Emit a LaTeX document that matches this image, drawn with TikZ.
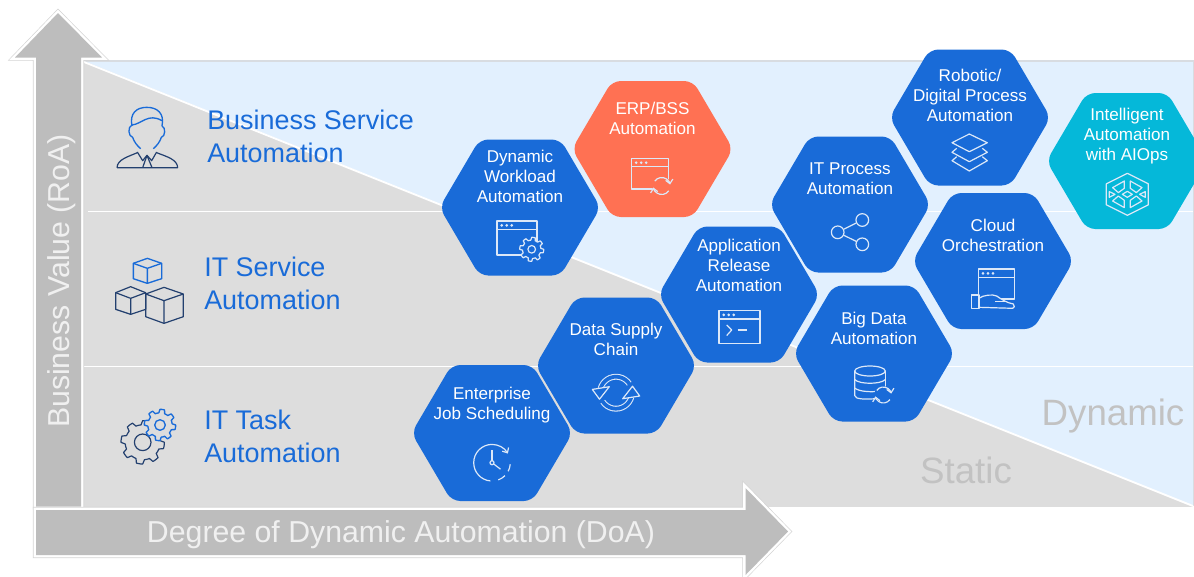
\documentclass[tikz,border=0pt]{standalone}
\usepackage{fontspec}
\setmainfont{Liberation Sans}
\usepackage{xcolor}
\usepackage{tikz}
\usetikzlibrary{arrows.meta}

\definecolor{hexblue}{HTML}{196BD8}
\definecolor{hexcoral}{HTML}{FF7153}
\definecolor{hexcyan}{HTML}{05B8D9}
\definecolor{skyfill}{HTML}{E2F0FE}
\definecolor{stonefill}{HTML}{DDDDDD}
\definecolor{barfill}{HTML}{BDBDBD}
\definecolor{barline}{HTML}{D4D4D4}
\definecolor{navyline}{HTML}{23406F}
\definecolor{iconline}{HTML}{DCE8F8}

\tikzset{
  >={Straight Barb[length=3pt, width=5.5pt]},
  barshape/.style={fill=barfill, preaction={draw=barline, line width=4.6pt},
    preaction={draw=white, line width=3.6pt}, line join=miter},
  hexbody/.style={rounded corners=6.5pt},
  hextext/.style={text=white, align=center, font=\fontsize{12.8}{15}\selectfont},
  sidetext/.style={text=hexblue, align=left, anchor=west, inner sep=0pt, font=\fontsize{20.2}{24.75}\selectfont},
  bartext/.style={text=white!94!black, font=\fontsize{22.7}{26}\selectfont},
  zonetext/.style={text=black!24, font=\fontsize{27.5}{30}\selectfont},
  iconpen/.style={draw=iconline, line width=0.9pt, line join=round},
  navypen/.style={draw=navyline, line width=0.9pt, line join=round},
  bluepen/.style={draw=hexblue, line width=1pt, line join=round},
  sharedot/.style={circle, draw=iconline, line width=0.9pt, minimum size=9.5pt, inner sep=0pt}
}

% hexagon cell: name, x, y, fill, text y, text
\newcommand{\hexcell}[6]{
  \fill[hexbody, fill=#4] (#2-80.5,#3) -- (#2-40.5,#3-68) -- (#2+40.5,#3-68)
    -- (#2+80.5,#3) -- (#2+40.5,#3+68) -- (#2-40.5,#3+68) -- cycle;
  \node[hextext] (#1) at (#2,#5) {#6};
}
% window with title bar: x0, y0, x1, y1
\newcommand{\winicon}[4]{
  \draw[iconpen] (#1,#2) rectangle (#3,#4);
  \draw[iconpen] (#1,#2+8.5) -- (#3,#2+8.5);
  \fill[iconline] (#1+4.7,#2+4.4) circle (1.1pt) (#1+9.7,#2+4.4) circle (1.1pt) (#1+14.7,#2+4.4) circle (1.1pt);
}
% gear: x, y, outer, inner, hole, pen, mask
\newcommand{\gearicon}[7]{
  \begin{scope}[shift={(#1,#2)}]
    \filldraw[#6, fill=#7] plot[domain=11.25:371.25, samples=65] (\x:{(mod(\x*8,360)<180) ? #3 : #4}) -- cycle;
    \draw[#6] (0,0) circle (#5);
  \end{scope}
}
% two turning arrows: x, y, radius, mask
\newcommand{\turnicon}[4]{
  \begin{scope}[shift={(#1,#2)}]
    \fill[#4] (0,0) circle (#3+1);
    \draw[iconpen, ->] (-145:#3) arc (-145:-10:#3);
    \draw[iconpen, ->] (35:#3) arc (35:170:#3);
  \end{scope}
}

\begin{document}
\begin{tikzpicture}[x=0.75pt, y=-0.75pt]
  \useasboundingbox (0,0) rectangle (1194,576);
  \clip (0,0) rectangle (1194,576);

  % Fond gris et triangle bleu
  \fill[stonefill] (84,62) rectangle (1193,507);
  \fill[skyfill] (84,61) -- (1193,61) -- (1193,506) -- cycle;
  \draw[barline!70!skyfill, line width=0.8pt] (84,61) -- (1193.5,61) -- (1193.5,506);
  \draw[white, line width=1.4pt] (84,62) -- (1193,506);
  \draw[white, line width=1.4pt] (88,211.5) -- (1193,211.5);
  \draw[white, line width=1.4pt] (84,366.5) -- (1193,366.5);
  \draw[white, line width=1pt] (83.5,62) -- (83.5,507);

  % Axes
  \fill[barshape] (36,506.5) -- (36,57.5) -- (15,57.5) -- (58,13) -- (102,57.5) -- (81,57.5) -- (81,506.5) -- cycle;
  \fill[barshape] (36,510) -- (745.5,510) -- (745.5,488) -- (788,531.5) -- (745.5,575) -- (745.5,555) -- (36,555) -- cycle;
  \node[bartext, rotate=90] (roalabel) at (62,281) {Business Value (RoA)};
  \node[bartext] (doalabel) at (401,535) {Degree of Dynamic Automation (DoA)};

  % Zones
  \node[zonetext] (dynamiclabel) at (1113,416) {Dynamic};
  \node[zonetext] (staticlabel) at (966,470) {Static};

  % Titres a gauche
  \node[sidetext] (bsalabel) at (207,136) {Business Service\\Automation};
  \node[sidetext] (itslabel) at (204,283) {IT Service\\Automation};
  \node[sidetext] (italabel) at (204,436) {IT Task\\Automation};

  % Personne
  \begin{scope}[scale=1/3]
    \draw[bluepen] (396,378) .. controls (388,340) and (410,322) .. (440,322)
      .. controls (472,322) and (494,340) .. (486,378);
    \draw[bluepen] (396,375) .. controls (425,372) and (445,338) .. (486,362);
    \draw[bluepen] (396,375) .. controls (382,380) and (385,410) .. (398,412)
      .. controls (402,425) and (412,438) .. (422,446);
    \draw[bluepen] (486,378) .. controls (498,382) and (496,410) .. (484,412)
      .. controls (480,425) and (470,438) .. (460,446);
    \draw[navypen] (351,503) -- (533,503) .. controls (532,478) and (500,470) .. (470,458);
    \draw[navypen] (351,503) .. controls (352,478) and (385,470) .. (412,458);
    \draw[navypen] (412,456) -- (428,482) -- (441,466) -- (455,482) -- (470,456);
    \draw[navypen] (441,466) -- (428,503) (441,466) -- (456,503);
  \end{scope}

  % Cubes
  \begin{scope}[scale=1/3]
    \draw[bluepen] (442,775) -- (485,790) -- (485,836) -- (442,850) -- (400,836) -- (400,790) -- cycle;
    \draw[bluepen] (400,790) -- (442,805) -- (485,790) (442,805) -- (442,850);
  \end{scope}
  \begin{scope}[shift={(0,280)}, scale=1/3]
    \draw[navypen] (347,38) -- (392,20) -- (437,38) -- (437,88) -- (392,103) -- (347,88) -- cycle;
    \draw[navypen] (347,38) -- (392,55) -- (437,38) (392,55) -- (392,103);
    \draw[navypen] (437,42) -- (492,22) -- (550,42) -- (550,110) -- (492,130) -- (437,110) -- cycle;
    \draw[navypen] (437,42) -- (492,62) -- (550,42) (492,62) -- (492,130);
  \end{scope}

  % Engrenages
  \gearicon{142.7}{442.3}{21.7}{17.5}{8.3}{navypen}{stonefill}
  \gearicon{160}{425}{15.7}{12.2}{5.3}{bluepen}{stonefill}

  % Hexagones
  \hexcell{dwalabel}{520}{207.5}{hexblue}{176}{Dynamic\\Workload\\Automation}
  \begin{scope}[shift={(520,207.5)}]
    \winicon{-23}{13.5}{17}{47.5}
    \gearicon{11.7}{41.8}{12}{9.2}{3.8}{iconpen}{hexblue}
  \end{scope}

  \hexcell{erplabel}{652.5}{149}{hexcoral}{118.5}{ERP/BSS\\Automation}
  \begin{scope}[shift={(652.5,149)}]
    \winicon{-21}{9.3}{16}{40}
    \turnicon{9.2}{37}{8.5}{hexcoral}
  \end{scope}

  \hexcell{rdalabel}{970}{117.5}{hexblue}{95}{Robotic/\\Digital Process\\Automation}
  \begin{scope}[shift={(970,117.5)}]
    \draw[iconpen] (-18,25.2) -- (-0.7,16.5) -- (17.3,25.2) -- (-0.7,34.2) -- cycle;
    \draw[iconpen] (-13.3,30.8) -- (-18,34.8) -- (-0.7,44.2) -- (17.3,34.8) -- (12.3,30.8);
    \draw[iconpen] (-13.3,39.2) -- (-18,43.2) -- (-0.7,53.5) -- (17.3,43.2) -- (12.3,39.2);
  \end{scope}

  \hexcell{aiolabel}{1127}{161}{hexcyan}{136.5}{Intelligent\\Automation\\with AIOps}
  \begin{scope}[shift={(1127.3,194.3)}]
    \draw[iconpen] (0,-21) -- (21,-10.5) -- (21,10.5) -- (0,21) -- (-21,10.5) -- (-21,-10.5) -- cycle;
    \draw[iconpen] (-5,0) -- (0,-3) -- (5,0) -- (0,3) -- cycle;
    \foreach \sx/\sy in {1/1,1/-1,-1/1,-1/-1}
      \draw[iconpen, xscale=\sx, yscale=\sy] (-14.7,-6.7) -- (-3,-13.3) -- (-3,-6) -- (-9,-1.7) -- cycle;
    \foreach \sx in {1,-1}
      \draw[iconpen, xscale=\sx] (-18,-2.7) -- (-12.3,0) -- (-18,3) -- cycle;
  \end{scope}

  \hexcell{itplabel}{850}{204.5}{hexblue}{179}{IT Process\\Automation}
  \begin{scope}[shift={(850,204.5)}]
    \node[sharedot] (shareroot) at (-12.3,27.8) {};
    \node[sharedot] (sharetop) at (12.3,15.5) {};
    \node[sharedot] (sharelow) at (12.3,39.8) {};
    \draw[iconpen] (shareroot) -- (sharetop);
    \draw[iconpen] (shareroot) -- (sharelow);
  \end{scope}

  \hexcell{coolabel}{993}{261}{hexblue}{235.5}{Cloud\\Orchestration}
  \begin{scope}[shift={(993,261)}]
    \winicon{-14.7}{8}{21.3}{38}
    \filldraw[iconpen, fill=hexblue] (-14,37.3) .. controls (-10,34) and (0,33) .. (3.7,35)
      .. controls (8,38) and (14,42) .. (20.3,43) -- (21.3,45.7) -- (19.7,47.3) -- (-14,46.3) -- cycle;
    \draw[iconpen] (-21.3,34) rectangle (-14,47.3);
    \draw[iconpen] (2,40.7) -- (12,40.7);
  \end{scope}

  \hexcell{aralabel}{739}{294.5}{hexblue}{265.5}{Application\\Release\\Automation}
  \begin{scope}[shift={(739,294.5)}]
    \winicon{-20}{16}{21}{49}
    \draw[iconpen] (-12.3,30.5) -- (-7.3,35.5) -- (-12.3,41);
    \draw[iconpen] (-1.3,35.5) -- (7.7,35.5);
  \end{scope}

  \hexcell{bdalabel}{874}{353.5}{hexblue}{328.5}{Big Data\\Automation}
  \begin{scope}[shift={(874,353.5)}]
    \draw[iconpen] (-4,17.5) ellipse (15.3 and 5);
    \draw[iconpen] (-19.3,17.5) -- (-19.3,42) .. controls (-19.3,46) and (-8,46) .. (4,45);
    \draw[iconpen] (11.3,17.5) -- (11.3,36);
    \draw[iconpen] (-19.3,26) .. controls (-15,31) and (7,31) .. (11.3,26);
    \draw[iconpen] (-19.3,34.5) .. controls (-15,38) and (-5,38.5) .. (2,38);
    \turnicon{9.3}{41.5}{8}{hexblue}
  \end{scope}

  \hexcell{dsclabel}{616}{365.5}{hexblue}{339.5}{Data Supply\\Chain}
  \begin{scope}[shift={(616,392.7)}]
    \foreach \turn in {0,180} {
      \begin{scope}[rotate=\turn]
        \draw[iconline, line width=4.4pt] (-34:16) arc (-34:-165:16);
        \draw[hexblue, line width=2.8pt] (-32:16) arc (-32:-165:16);
        \filldraw[iconpen, fill=hexblue] (-23.7,-3.3) -- (-6.7,-6) -- (-16.5,6.5) -- cycle;
      \end{scope}
    }
  \end{scope}

  \hexcell{ejslabel}{492}{433}{hexblue}{405.5}{Enterprise\\Job Scheduling}
  \begin{scope}[shift={(492,462.7)}]
    \draw[iconpen] (0,-18.3) arc (-90:-265:18.3);
    \draw[iconpen, ->] (0,-18.3) arc (-90:-30:18.3);
    \draw[iconpen] (70:18.3) arc (70:45:18.3);
    \draw[iconpen] (28:18.3) arc (28:5:18.3);
    \draw[iconpen] (0,-2) -- (0,-13);
    \draw[iconpen] (1.6,1.2) -- (8.5,6.5);
    \draw[iconpen] (0,0) circle (2);
  \end{scope}
\end{tikzpicture}
\end{document}
